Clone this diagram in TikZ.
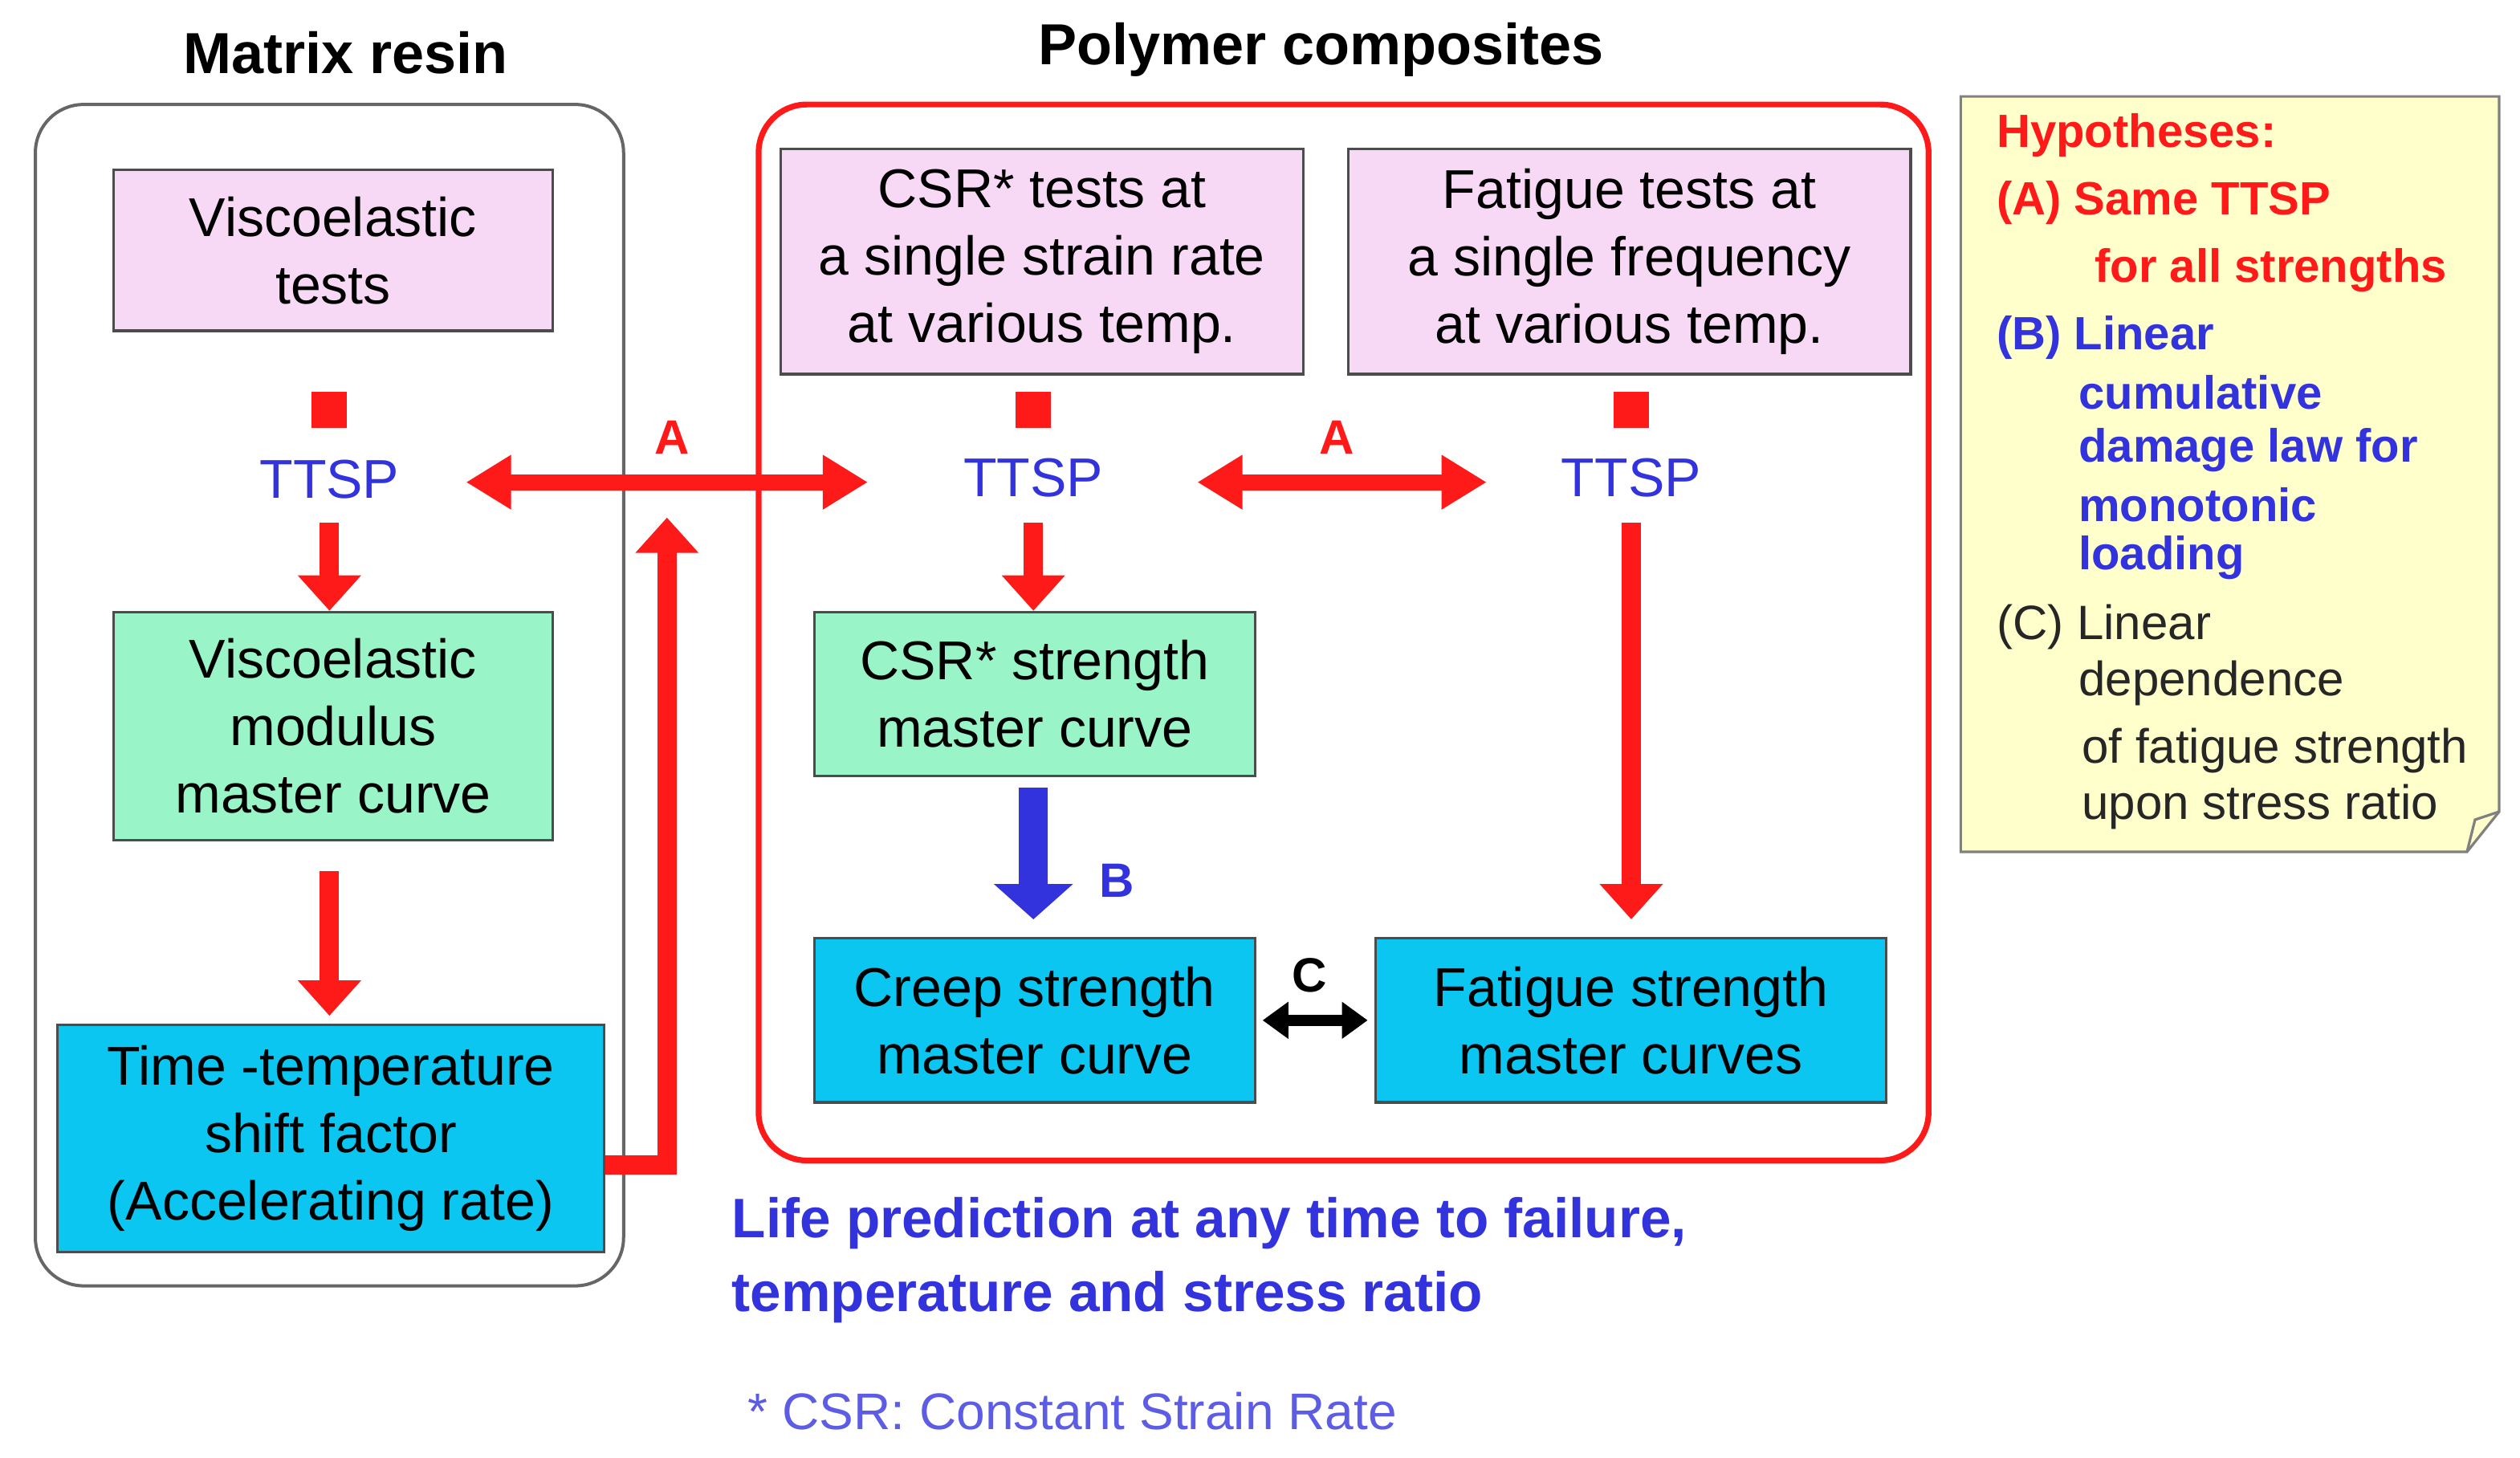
\documentclass[tikz,border=0pt]{standalone}
\usepackage{fontspec}
\setmainfont{Liberation Sans}
\usetikzlibrary{arrows.meta}
\definecolor{rd}{HTML}{FF1A1A}
\definecolor{bl}{HTML}{3333DD}
\definecolor{pinkf}{HTML}{F7D9F5}
\definecolor{greenf}{HTML}{99F5C8}
\definecolor{cyanf}{HTML}{0CC6F2}
\definecolor{notef}{HTML}{FFFFCC}
\begin{document}
\begin{tikzpicture}[x=0.5pt,y=-0.5pt,
  box/.style={draw=black!70,line width=0.8pt,align=center,font=\fontsize{17}{21}\selectfont,inner sep=0pt,anchor=north west},
  ttsp/.style={text=bl,font=\fontsize{17}{18}\selectfont},
  sq/.style={fill=rd,minimum size=11pt,inner sep=0pt},
  rarr/.style={rd,line width=6pt,-{Triangle[width=19pt,length=11pt]}},
  rdbl/.style={rd,line width=5pt,{Triangle[width=16pt,length=14pt]}-{Triangle[width=16pt,length=14pt]}},
  lab/.style={font=\bfseries\fontsize{15}{16}\selectfont},
  nt/.style={anchor=west,font=\bfseries\fontsize{14.5}{16}\selectfont,inner sep=0pt},
  nn/.style={anchor=west,font=\fontsize{15}{16}\selectfont,inner sep=0pt,text=black!85}]
\useasboundingbox (0,0) rectangle (1568,907);
\fill[white] (0,0) rectangle (1568,907);
\node[font=\bfseries\fontsize{18}{18}\selectfont] (t1) at (215,33) {Matrix resin};
\node[font=\bfseries\fontsize{18}{18}\selectfont] (t2) at (822,31) {Polymer composites};
\draw[black!60,line width=1pt,rounded corners=15pt] (22,65) rectangle (388,800);
\draw[rd,line width=1.8pt,rounded corners=15pt] (472,65) rectangle (1200,722);
% left column
\node[box,fill=pinkf,minimum width=136.5pt,minimum height=50pt] (vt) at (70,105) {Viscoelastic\\tests};
\node[sq] (s1) at (205,255) {};
\node[ttsp] (tt1) at (205,298) {TTSP};
\node[box,fill=greenf,minimum width=136.5pt,minimum height=71pt] (vm) at (70,380) {Viscoelastic\\modulus\\master curve};
\node[box,fill=cyanf,minimum width=170pt,minimum height=70.5pt] (ts) at (35,637) {Time -temperature\\shift factor\\(Accelerating rate)};
\draw[rarr] (205,325) -- (205,380);
\draw[rarr] (205,542) -- (205,632);
\coordinate (c1) at (415,725);
\coordinate (c2) at (415,322);
\draw[rd,line width=6pt] (ts.east|-c1) -- (c1) -- (415,350);
\draw[rarr] (415,352) -- (c2);
% middle
\node[box,fill=pinkf,minimum width=162.5pt,minimum height=70pt] (csr) at (485,92) {CSR* tests at\\a single strain rate\\at various temp.};
\node[box,fill=pinkf,minimum width=175pt,minimum height=70pt] (ft) at (838,92) {Fatigue tests at\\a single frequency\\at various temp.};
\node[sq] (s2) at (643,255) {};
\node[ttsp] (tt2) at (643,297) {TTSP};
\node[sq] (s3) at (1015,255) {};
\node[ttsp] (tt3) at (1015,297) {TTSP};
\draw[rdbl] (290,300) -- (540,300);
\node[lab,text=rd] (la1) at (418,272) {A};
\draw[rdbl] (745,300) -- (925,300);
\node[lab,text=rd] (la2) at (832,272) {A};
\node[box,fill=greenf,minimum width=137pt,minimum height=51pt] (cm) at (506,380) {CSR* strength\\master curve};
\draw[rarr] (643,325) -- (643,380);
\node[box,fill=cyanf,minimum width=137pt,minimum height=51pt] (cr) at (506,583) {Creep strength\\master curve};
\node[box,fill=cyanf,minimum width=159pt,minimum height=51pt] (fs) at (855,583) {Fatigue strength\\master curves};
\draw[bl,line width=9pt,-{Triangle[width=24pt,length=11pt]}] (643,490) -- (643,572);
\node[lab,text=bl] (lb) at (695,548) {B};
\draw[rarr] (1015,325) -- (1015,572);
\draw[black,line width=3.5pt,{Triangle[width=11pt,length=8pt]}-{Triangle[width=11pt,length=8pt]}] (cr.east)++(4,0) -- ([xshift=-2]fs.west);
\node[lab] (lc) at (815,607) {C};
\node[anchor=west,text=bl,font=\bfseries\fontsize{17.3}{23}\selectfont,align=left,inner sep=0pt] (lp) at (455,784) {Life prediction at any time to failure,\\temperature and stress ratio};
\node[anchor=west,text=bl!80,font=\fontsize{16}{16}\selectfont,inner sep=0pt] (fn) at (465,878) {* CSR: Constant Strain Rate};
% note
\draw[black!50,fill=notef,line width=0.8pt] (1220,60) -- (1555,60) -- (1555,505) -- (1535,530) -- (1220,530) -- cycle;
\draw[black!50,line width=0.8pt] (1555,505) -- (1540,510) -- (1535,530);
\node[nt,text=rd] (h0) at (1242,84) {Hypotheses:};
\node[nt,text=rd] (h1) at (1242,126) {(A) Same TTSP};
\node[nt,text=rd] (h2) at (1303,168) {for all strengths};
\node[nt,text=bl] (h3) at (1242,210) {(B) Linear};
\node[nt,text=bl] (h4) at (1293,244) {cumulative};
\node[nt,text=bl] (h5) at (1293,280) {damage law for};
\node[nt,text=bl] (h6) at (1293,314) {monotonic};
\node[nt,text=bl] (h7) at (1293,347) {loading};
\node[nn] (h8) at (1242,390) {(C) Linear};
\node[nn] (h9) at (1293,425) {dependence};
\node[nn] (h10) at (1295,467) {of fatigue strength};
\node[nn] (h11) at (1295,502) {upon stress ratio};
\end{tikzpicture}
\end{document}
